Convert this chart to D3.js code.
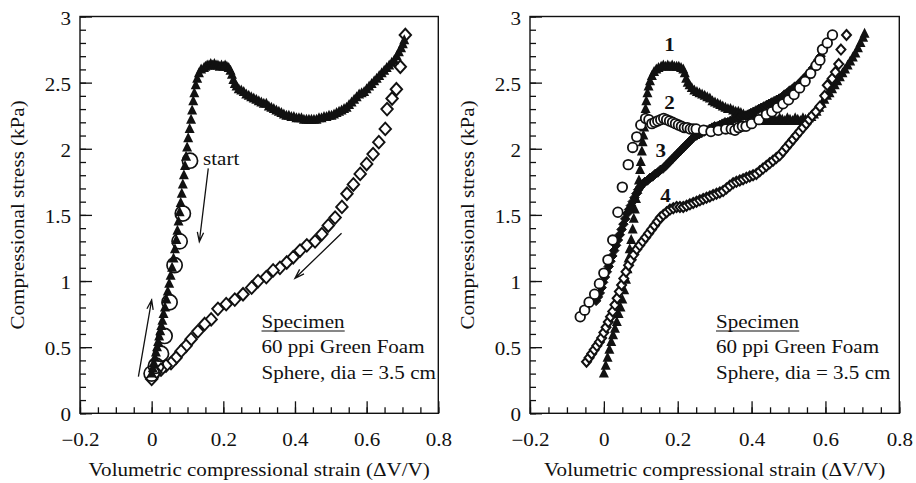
<!DOCTYPE html>
<html>
<head>
<meta charset="utf-8">
<script src="https://cdn.jsdelivr.net/npm/d3@7"></script>
<style>
  body { margin: 0; background: #fff; }
  svg { display: block; }
  text { font-family: "Liberation Serif", "Times New Roman", serif; fill: #111; }
</style>
</head>
<body>
<svg id="chart" width="916" height="483"></svg>
<script>
// ---- data (strain, stress kPa) ----
const xTicks = [-0.2, 0, 0.2, 0.4, 0.6, 0.8];
const yTicks = [0, 0.5, 1, 1.5, 2, 2.5, 3];

// left panel: loading (filled triangles)
const leftLoad = [
  [0.000,0.30],[0.003,0.34],[0.006,0.38],[0.009,0.42],[0.012,0.46],[0.015,0.50],[0.018,0.54],[0.021,0.58],
  [0.024,0.62],[0.027,0.66],[0.030,0.70],[0.033,0.75],[0.037,0.80],[0.041,0.86],[0.045,0.92],[0.049,0.98],
  [0.053,1.04],[0.057,1.10],[0.061,1.17],[0.065,1.24],[0.069,1.31],[0.072,1.38],[0.075,1.45],[0.078,1.52],
  [0.081,1.59],[0.084,1.66],[0.087,1.73],[0.090,1.80],[0.093,1.87],[0.096,1.94],[0.099,2.01],[0.102,2.08],
  [0.106,2.15],[0.110,2.22],[0.113,2.29],[0.116,2.36],[0.119,2.42],[0.123,2.48],[0.127,2.53],[0.132,2.57],
  [0.138,2.60],[0.146,2.61],[0.150,2.62],[0.155,2.63],[0.160,2.63],[0.165,2.64],[0.170,2.63],[0.175,2.64],
  [0.180,2.63],[0.185,2.63],[0.190,2.62],[0.195,2.63],[0.200,2.62],[0.205,2.63],[0.210,2.62],[0.215,2.61],
  [0.220,2.59],[0.224,2.56],[0.228,2.52],[0.232,2.49],[0.237,2.47],[0.243,2.45],[0.250,2.44],[0.257,2.43],
  [0.264,2.41],[0.271,2.40],[0.278,2.39],[0.285,2.38],[0.292,2.37],[0.299,2.36],[0.306,2.35],[0.313,2.34],
  [0.320,2.34],[0.327,2.32],[0.334,2.31],[0.341,2.30],[0.348,2.29],[0.355,2.28],[0.362,2.27],[0.369,2.26],
  [0.376,2.25],[0.383,2.25],[0.390,2.24],[0.397,2.24],[0.404,2.23],[0.411,2.23],[0.418,2.23],[0.425,2.22],
  [0.432,2.22],[0.439,2.22],[0.446,2.22],[0.453,2.22],[0.460,2.22],[0.467,2.23],[0.474,2.23],[0.481,2.24],
  [0.488,2.24],[0.495,2.25],[0.502,2.25],[0.509,2.26],[0.516,2.27],[0.523,2.28],[0.530,2.29],[0.537,2.30],
  [0.544,2.31],[0.551,2.33],[0.558,2.35],[0.565,2.37],[0.572,2.39],[0.579,2.41],[0.586,2.42],[0.593,2.43],
  [0.600,2.45],[0.607,2.47],[0.614,2.49],[0.621,2.51],[0.628,2.53],[0.635,2.55],[0.642,2.57],[0.649,2.59],
  [0.656,2.61],[0.663,2.63],[0.670,2.65],[0.677,2.67],[0.684,2.70],[0.690,2.73],[0.696,2.76],[0.701,2.79],
  [0.705,2.82]
];
// left panel: reloading (open circles)
const leftCircles = [
  [0.000,0.30],[0.012,0.36],[0.026,0.45],[0.036,0.585],[0.050,0.84],[0.064,1.12],[0.078,1.30],[0.087,1.51],[0.107,1.91]
];
// left panel: unloading (open diamonds)
const leftUnload = [
  [0.708,2.86],[0.694,2.62],[0.683,2.45],[0.671,2.38],[0.657,2.30],[0.652,2.15],[0.634,2.05],[0.618,1.96],
  [0.600,1.885],[0.582,1.81],[0.563,1.73],[0.545,1.66],[0.531,1.56],[0.512,1.48],[0.493,1.42],[0.475,1.355],
  [0.456,1.30],[0.433,1.27],[0.414,1.23],[0.395,1.18],[0.377,1.14],[0.358,1.10],[0.339,1.08],[0.320,1.03],
  [0.297,1.00],[0.279,0.95],[0.255,0.90],[0.232,0.86],[0.208,0.825],[0.185,0.79],[0.166,0.71],[0.148,0.675],
  [0.129,0.62],[0.110,0.56],[0.096,0.51],[0.082,0.47],[0.068,0.42],[0.054,0.38],[0.040,0.36],[0.026,0.33],
  [0.012,0.31],[0.000,0.26]
];

// right panel, curve 1 (filled triangles)
const right1 = [
  [0.000,0.30],[0.005,0.36],[0.010,0.42],[0.015,0.48],[0.020,0.54],[0.025,0.59],[0.030,0.64],[0.035,0.69],
  [0.040,0.75],[0.045,0.80],[0.050,0.86],[0.055,0.93],[0.060,1.01],[0.064,1.09],[0.067,1.17],[0.070,1.24],
  [0.074,1.31],[0.078,1.39],[0.081,1.47],[0.084,1.54],[0.087,1.62],[0.091,1.69],[0.095,1.76],[0.098,1.84],
  [0.100,1.90],[0.103,1.98],[0.105,2.05],[0.107,2.10],[0.109,2.16],[0.111,2.23],[0.113,2.30],[0.115,2.36],
  [0.118,2.42],[0.121,2.47],[0.125,2.51],[0.130,2.55],[0.136,2.58],[0.142,2.60],[0.148,2.61],[0.155,2.62],
  [0.161,2.63],[0.167,2.62],[0.173,2.63],[0.179,2.62],[0.185,2.63],[0.191,2.62],[0.197,2.62],[0.203,2.62],
  [0.209,2.61],[0.215,2.60],[0.219,2.57],[0.223,2.53],[0.227,2.50],[0.232,2.48],[0.238,2.46],[0.245,2.44],
  [0.252,2.43],[0.259,2.42],[0.266,2.41],[0.273,2.40],[0.280,2.39],[0.287,2.38],[0.294,2.36],[0.301,2.35],
  [0.308,2.34],[0.315,2.33],[0.322,2.32],[0.329,2.31],[0.336,2.30],[0.343,2.30],[0.350,2.29],[0.357,2.28],
  [0.364,2.28],[0.371,2.27],[0.378,2.26],[0.385,2.25],[0.392,2.25],[0.399,2.24],[0.406,2.23],[0.413,2.23],
  [0.420,2.22],[0.427,2.23],[0.434,2.21],[0.441,2.23],[0.448,2.21],[0.455,2.23],[0.462,2.22],[0.469,2.21],
  [0.476,2.23],[0.483,2.22],[0.490,2.21],[0.497,2.23],[0.504,2.22],[0.511,2.21],[0.518,2.23],[0.525,2.22],
  [0.532,2.21],[0.539,2.23],[0.546,2.22],[0.555,2.23],[0.562,2.24],[0.569,2.26],[0.576,2.28],[0.583,2.31],
  [0.590,2.34],[0.597,2.37],[0.604,2.40],[0.611,2.42],[0.618,2.45],[0.625,2.48],[0.632,2.51],[0.639,2.54],
  [0.646,2.57],[0.653,2.60],[0.660,2.63],[0.667,2.66],[0.674,2.69],[0.681,2.72],[0.688,2.76],[0.695,2.80],
  [0.702,2.84],[0.706,2.87]
];
// right panel, curve 2 (open circles)
const right2 = [
  [-0.064,0.73],[-0.052,0.78],[-0.040,0.84],[-0.025,0.90],[-0.012,0.98],[0.000,1.06],[0.011,1.16],[0.024,1.31],
  [0.038,1.52],[0.050,1.71],[0.066,1.88],[0.078,2.01],[0.089,2.09],[0.100,2.18],[0.113,2.23],[0.122,2.22],
  [0.130,2.19],[0.138,2.20],[0.146,2.21],[0.154,2.22],[0.162,2.23],[0.170,2.22],[0.178,2.21],[0.186,2.20],
  [0.194,2.19],[0.202,2.18],[0.210,2.17],[0.218,2.16],[0.226,2.16],[0.234,2.15],[0.242,2.15],[0.250,2.15],
  [0.270,2.14],[0.290,2.13],[0.310,2.14],[0.330,2.15],[0.345,2.15],[0.355,2.14],[0.365,2.16],[0.375,2.17],
  [0.385,2.17],[0.400,2.19],[0.420,2.22],[0.440,2.26],[0.455,2.28],[0.470,2.31],[0.485,2.34],[0.500,2.37],
  [0.515,2.41],[0.530,2.46],[0.545,2.51],[0.560,2.57],[0.575,2.63],[0.585,2.67],[0.592,2.75],[0.605,2.80],
  [0.619,2.86]
];
// right panel, curve 3 (filled marks)
const right3 = [
  [-0.021,0.85],[-0.016,0.88],[-0.011,0.91],[-0.006,0.95],[-0.002,0.99],[0.003,1.03],[0.008,1.07],[0.013,1.11],
  [0.018,1.15],[0.023,1.19],[0.028,1.23],[0.033,1.27],[0.038,1.31],[0.043,1.35],[0.048,1.39],[0.053,1.43],
  [0.058,1.47],[0.063,1.51],[0.068,1.54],[0.073,1.57],[0.078,1.60],[0.083,1.63],[0.088,1.66],[0.093,1.69],
  [0.098,1.71],[0.104,1.73],[0.111,1.75],[0.118,1.76],[0.125,1.78],[0.132,1.79],[0.139,1.81],[0.146,1.82],
  [0.153,1.84],[0.160,1.85],[0.167,1.87],[0.174,1.89],[0.181,1.91],[0.188,1.93],[0.195,1.95],[0.202,1.97],
  [0.209,1.99],[0.216,2.01],[0.223,2.03],[0.230,2.05],[0.237,2.07],[0.244,2.09],[0.251,2.10],[0.258,2.11],
  [0.265,2.12],[0.272,2.13],[0.279,2.14],[0.286,2.15],[0.293,2.16],[0.300,2.17],[0.307,2.17],[0.314,2.18],
  [0.321,2.19],[0.328,2.20],[0.335,2.20],[0.342,2.21],[0.349,2.22],[0.356,2.23],[0.363,2.23],[0.370,2.24],
  [0.377,2.25],[0.384,2.25],[0.391,2.26],[0.398,2.27],[0.405,2.28],[0.412,2.29],[0.419,2.30],[0.426,2.31],
  [0.433,2.32],[0.440,2.33],[0.447,2.34],[0.454,2.35],[0.461,2.36],[0.468,2.37],[0.475,2.38],[0.482,2.39],
  [0.489,2.41],[0.496,2.42],[0.503,2.44],[0.510,2.45],[0.517,2.47],[0.524,2.48],[0.531,2.50],[0.538,2.52],
  [0.545,2.54],[0.552,2.56],[0.559,2.58],[0.566,2.61],[0.573,2.64],[0.580,2.67],[0.587,2.70]
];
// right panel, curve 4 (open diamonds)
const right4 = [
  [-0.047,0.39],[-0.040,0.42],[-0.033,0.45],[-0.026,0.48],[-0.019,0.51],[-0.012,0.54],[-0.006,0.57],[0.000,0.61],
  [0.006,0.65],[0.012,0.69],[0.018,0.73],[0.024,0.77],[0.030,0.82],[0.036,0.87],[0.042,0.92],[0.048,0.97],
  [0.054,1.02],[0.060,1.07],[0.067,1.12],[0.074,1.16],[0.081,1.20],[0.089,1.24],[0.097,1.27],[0.105,1.30],
  [0.113,1.33],[0.121,1.36],[0.129,1.39],[0.137,1.42],[0.145,1.45],[0.153,1.48],[0.161,1.50],[0.170,1.52],
  [0.179,1.54],[0.188,1.55],[0.197,1.56],[0.206,1.56],[0.215,1.56],[0.224,1.57],[0.233,1.58],[0.242,1.59],
  [0.251,1.60],[0.260,1.61],[0.269,1.62],[0.278,1.63],[0.287,1.64],[0.296,1.65],[0.305,1.66],[0.314,1.67],
  [0.323,1.68],[0.332,1.70],[0.341,1.72],[0.350,1.74],[0.359,1.75],[0.368,1.76],[0.377,1.77],[0.386,1.78],
  [0.395,1.79],[0.404,1.80],[0.413,1.81],[0.422,1.83],[0.431,1.85],[0.440,1.87],[0.449,1.89],[0.458,1.91],
  [0.467,1.93],[0.476,1.95],[0.485,1.98],[0.494,2.01],[0.503,2.04],[0.512,2.07],[0.521,2.10],[0.530,2.13],
  [0.539,2.16],[0.548,2.19],[0.556,2.22],[0.564,2.25],[0.574,2.28],[0.585,2.32],[0.598,2.40],[0.605,2.48],
  [0.618,2.53],[0.627,2.58],[0.636,2.64],[0.642,2.75],[0.657,2.86]
];

// annotations (data coords)
const leftArrows = [
  [[-0.037,0.277],[0.000,0.857]],
  [[0.158,1.852],[0.133,1.297]],
  [[0.530,1.361],[0.400,1.021]]
];
const curveLabels = [
  { t: "1", x: 0.178, y: 2.74 },
  { t: "2", x: 0.178, y: 2.30 },
  { t: "3", x: 0.154, y: 1.94 },
  { t: "4", x: 0.167, y: 1.60 }
];
const specimenLines = ["60 ppi Green Foam", "Sphere, dia = 3.5 cm"];

// ---- drawing ----
const SX = 1.17; // the source typeface is set a little wide
const svg = d3.select("#chart");
const INK = "#111";
const FS = 18;

const fmtX = (d) => (d === 0 ? "0" : d3.format(".1f")(d));
const fmtY = (d) => d3.format("")(d);

function stretchedText(g, x, y, str, anchor) {
  return g.append("text")
    .attr("transform", `translate(${x},${y}) scale(${SX},1)`)
    .attr("text-anchor", anchor || "start")
    .attr("font-size", FS)
    .text(str);
}

function panel(x0, x1) {
  const x = d3.scaleLinear().domain([-0.2, 0.8]).range([x0, x1]);
  const y = d3.scaleLinear().domain([0, 3]).range([413.3, 16.5]);
  const g = svg.append("g");

  g.append("rect")
    .attr("x", x0).attr("y", y(3))
    .attr("width", x1 - x0).attr("height", y(0) - y(3))
    .attr("fill", "none").attr("stroke", INK).attr("stroke-width", 1.4);

  // minor ticks
  g.append("g").attr("transform", `translate(${x0},0)`)
    .call(d3.axisLeft(y).tickValues(y.ticks(30)).tickSize(-6).tickFormat(""));
  g.append("g").attr("transform", `translate(0,${y(0)})`)
    .call(d3.axisBottom(x).tickValues(x.ticks(20)).tickSize(-6).tickFormat(""));

  // major ticks + labels
  const ya = g.append("g").attr("transform", `translate(${x0},0)`)
    .call(d3.axisLeft(y).tickValues(yTicks).tickSize(-12).tickPadding(9).tickFormat(fmtY));
  const xa = g.append("g").attr("transform", `translate(0,${y(0)})`)
    .call(d3.axisBottom(x).tickValues(xTicks).tickSize(-12).tickPadding(19).tickFormat(fmtX));

  g.selectAll(".domain").remove();
  g.selectAll(".tick line").attr("stroke", INK).attr("stroke-width", 1.3);

  ya.selectAll("text")
    .attr("x", null).attr("dy", "0.42em")
    .attr("transform", `translate(-9,0) scale(${SX},1)`);
  xa.selectAll("text")
    .attr("y", null).attr("dy", "0.71em")
    .attr("transform", `translate(0,20) scale(${SX},1)`);
  g.selectAll(".tick text")
    .attr("font-family", "Liberation Serif, Times New Roman, serif")
    .attr("font-size", FS).attr("fill", INK);

  // axis titles
  g.append("text")
    .attr("transform", `translate(${x0 - 62},${(y(0) + y(3)) / 2}) rotate(-90) scale(${SX},1)`)
    .attr("text-anchor", "middle").attr("dy", "0.35em")
    .attr("font-size", FS)
    .text("Compressional stress (kPa)");
  stretchedText(g, (x0 + x1) / 2, 476, "Volumetric compressional strain (\u0394V/V)", "middle");

  return { g, x, y };
}

function triPath(w, h) {
  return `M0,${-h * 0.6}L${w / 2},${h * 0.4}L${-w / 2},${h * 0.4}Z`;
}
function diaPath(w, h) {
  return `M0,${-h / 2}L${w / 2},0L0,${h / 2}L${-w / 2},0Z`;
}

function markers(p, data, shape) {
  p.g.append("g").selectAll("path").data(data).join("path")
    .attr("transform", (d) => `translate(${p.x(d[0])},${p.y(d[1])})`)
    .attr("d", shape.d)
    .attr("fill", shape.fill)
    .attr("stroke", shape.stroke || "none")
    .attr("stroke-width", shape.sw || 0);
}
function circles(p, data, r, fill, sw) {
  p.g.append("g").selectAll("circle").data(data).join("circle")
    .attr("cx", (d) => p.x(d[0])).attr("cy", (d) => p.y(d[1]))
    .attr("r", r).attr("fill", fill).attr("stroke", INK).attr("stroke-width", sw);
}

function arrow(p, a) {
  const x1 = p.x(a[0][0]), y1 = p.y(a[0][1]);
  const x2 = p.x(a[1][0]), y2 = p.y(a[1][1]);
  const ang = Math.atan2(y2 - y1, x2 - x1);
  const L = 10, spread = 0.32;
  const head = [ang + Math.PI - spread, ang + Math.PI + spread]
    .map((t) => [x2 + L * Math.cos(t), y2 + L * Math.sin(t)]);
  p.g.append("path")
    .attr("d", `M${x1},${y1}L${x2},${y2}M${head[0][0]},${head[0][1]}L${x2},${y2}L${head[1][0]},${head[1][1]}`)
    .attr("fill", "none").attr("stroke", INK).attr("stroke-width", 1.3);
}

function specimen(g, x, y) {
  const t = stretchedText(g, x, y, "Specimen");
  const w = t.node().getBBox().width * SX;
  g.append("line").attr("x1", x).attr("x2", x + w).attr("y1", y + 3.5).attr("y2", y + 3.5)
    .attr("stroke", INK).attr("stroke-width", 1.2);
  specimenLines.forEach((s, i) => stretchedText(g, x, y + 25.5 * (i + 1), s));
}

// LEFT PANEL
const L = panel(80, 438.3);
markers(L, leftUnload, { d: diaPath(11.5, 12.5), fill: "#fff", stroke: INK, sw: 1.9 });
markers(L, leftLoad, { d: triPath(10, 10), fill: INK });
circles(L, leftCircles, 7.6, "none", 1.7);
leftArrows.forEach((a) => arrow(L, a));
stretchedText(L.g, 203, 165, "start");
specimen(L.g, 261.5, 327.5);

// RIGHT PANEL
const R = panel(530, 899.3);
markers(R, right1, { d: triPath(10, 10), fill: INK });
markers(R, right4, { d: diaPath(9, 10), fill: "#fff", stroke: INK, sw: 2 });
markers(R, right3, { d: diaPath(9.5, 9.5), fill: INK, stroke: INK, sw: 1 });
circles(R, right2, 4.8, "#fff", 1.8);
curveLabels.forEach((c) => {
  R.g.append("text")
    .attr("transform", `translate(${R.x(c.x)},${R.y(c.y)}) scale(${SX},1)`)
    .attr("text-anchor", "middle").attr("font-weight", "bold").attr("font-size", FS)
    .text(c.t);
});
specimen(R.g, 716, 327.5);
</script>
</body>
</html>
